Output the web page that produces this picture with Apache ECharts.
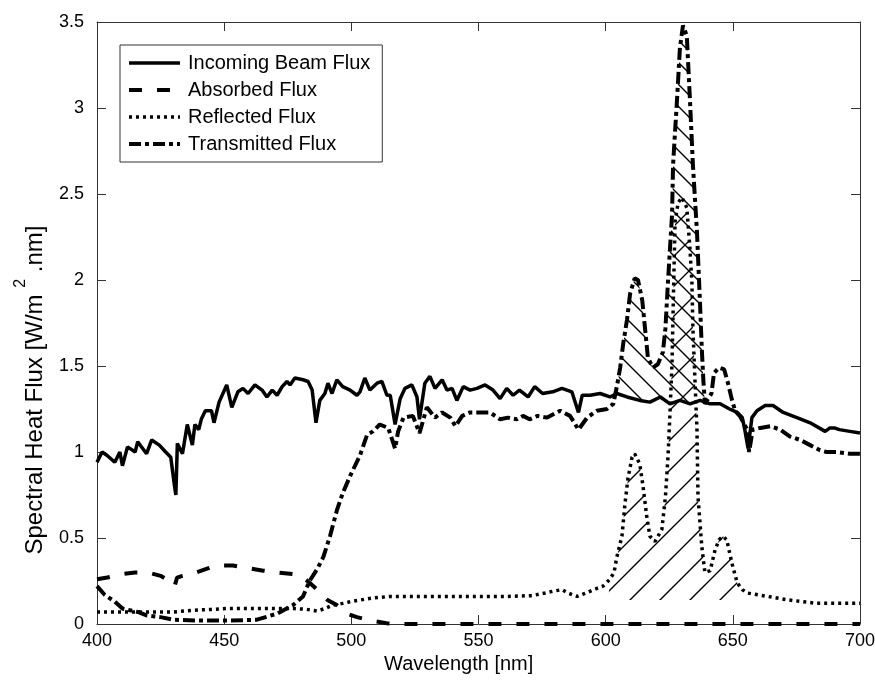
<!DOCTYPE html>
<html>
<head>
<meta charset="utf-8">
<script src="https://cdn.jsdelivr.net/npm/echarts@6/dist/echarts.min.js"></script>
<style>
  html, body { margin: 0; padding: 0; background: #fff; }
  #chart { width: 875px; height: 695px; }
</style>
</head>
<body>
<div id="chart"></div>
<script>
// ---- Spectral data (wavelength in nm, flux in W/m^2.nm) ----
const incomingNm = [400,402,404,407,409,410,412,415,416,419.5,421.5,424.5,427,429,430.5,431,431.6,433.6,435.5,437.5,438.5,440,441,442.6,445,446,448,451,453,455.4,457.4,459.4,462.1,464.9,466.8,468.9,470.8,472.8,474.7,475.9,477.8,481,483,484.6,486.1,487.6,489.6,490.8,492.4,494.3,496.6,499.5,502.2,503.4,505.3,507.3,510.1,512,514,515.3,517.2,519.2,521.1,523.8,525.8,526.8,528.9,530.9,532.9,535.7,537.6,539.6,541.5,544,546.7,549.4,552.6,555.7,558.5,561.1,563.6,566.1,569.5,572.1,575.2,579.2,582.8,586.7,589.3,590.8,593.9,597.8,601.7,604.4,608.4,613.4,617.4,621.5,625.3,629.2,633.2,637.1,641.1,645,648.7,651.7,653.7,654.7,656,657.5,659.5,662.7,665.8,669.8,675.2,680.4,686.3,688.2,689.9,691.9,696,700];
const incomingFlux = [0.94,1.00,0.98,0.94,1.00,0.92,1.03,1.00,1.06,0.99,1.07,1.04,1.00,0.97,0.80,0.75,1.05,0.99,1.16,1.04,1.16,1.13,1.19,1.24,1.24,1.17,1.29,1.39,1.26,1.35,1.37,1.34,1.39,1.36,1.32,1.36,1.33,1.38,1.41,1.39,1.43,1.42,1.41,1.36,1.17,1.30,1.34,1.40,1.34,1.42,1.38,1.36,1.33,1.35,1.43,1.36,1.40,1.41,1.33,1.33,1.16,1.31,1.37,1.39,1.32,1.19,1.40,1.44,1.37,1.42,1.36,1.37,1.30,1.38,1.36,1.37,1.39,1.36,1.31,1.37,1.33,1.36,1.32,1.38,1.34,1.35,1.37,1.35,1.23,1.33,1.33,1.34,1.32,1.34,1.32,1.30,1.29,1.32,1.28,1.30,1.28,1.30,1.28,1.28,1.25,1.23,1.20,1.13,1.02,1.20,1.24,1.27,1.27,1.23,1.20,1.17,1.12,1.14,1.14,1.13,1.12,1.11];

const absorbedNm = [400,404,410,415,420,425,428.5,430.5,431.5,433.6,439,443,447,450,453.4,457.4,461.4,465.4,470.5,477.1,481,483.6,486.6,490.6,494.3,498.3,502.2,507.7,513.8,517.8,700];
const absorbedFlux = [0.26,0.27,0.29,0.30,0.30,0.28,0.25,0.22,0.27,0.28,0.30,0.32,0.34,0.34,0.34,0.33,0.32,0.31,0.30,0.29,0.27,0.24,0.20,0.14,0.11,0.06,0.04,0.02,0.005,0,0];

const reflectedNm = [400,410,420,430,438,445,451.3,460.4,470.5,477.5,482.5,486.6,489.6,492.6,496.6,499.7,503.7,507.7,514.8,520.8,530.9,540.9,551,561.1,571.1,576.2,579.2,582.8,585.2,588.8,592.3,595.3,598.9,601.7,603.3,604.4,606.4,607.6,608.8,610.4,611.4,613.4,614.7,616.2,617.4,619.4,622.1,623.5,624.5,625.3,626.1,626.7,627.3,628.5,630,631.9,633.1,633.9,634.3,635.1,635.9,636.3,637.8,639,641.1,643,644.6,646.1,647.6,649.7,651.7,653.7,655.7,659.8,663.8,671.9,682.9,691.9,700];
const reflectedFlux = [0.07,0.07,0.07,0.07,0.08,0.085,0.09,0.09,0.09,0.09,0.085,0.075,0.09,0.11,0.12,0.13,0.14,0.15,0.16,0.16,0.16,0.16,0.16,0.16,0.165,0.18,0.19,0.20,0.18,0.16,0.18,0.20,0.22,0.26,0.30,0.39,0.51,0.70,0.85,0.97,0.99,0.93,0.80,0.62,0.51,0.48,0.55,0.74,0.97,1.23,1.52,1.95,2.34,2.45,2.48,2.42,2.19,1.99,1.72,1.42,1.13,0.74,0.45,0.30,0.31,0.43,0.49,0.51,0.49,0.35,0.24,0.20,0.18,0.17,0.16,0.14,0.12,0.12,0.12];

const transmittedNm = [400,403,407,410,416,419.5,425,430,440,452.3,462.9,470.8,477.1,481,483.6,486.6,489,491.6,494.3,496.6,499.5,503.4,506.2,508.5,511.2,514.5,517.2,518.4,520.5,524.2,526.8,529.7,532.9,535.7,538.9,540.9,543.6,546.7,550.6,554.5,558.5,561.6,565.1,567.5,570.1,573.2,577,582.1,586,589.3,592.7,596.6,600.5,603,604.4,605.7,606.9,608.4,609.6,611.4,612.7,614.4,615.4,616.6,618.5,620.5,622.5,623.5,624.5,626.1,626.5,628.1,629.2,630.4,631.9,633.1,634.3,635.9,637,637.8,638.4,639,641.6,642.6,644.6,646.6,648.1,649.7,650.9,652.7,655.7,656.4,657.8,660.8,664.8,668.6,672.5,676.5,680.4,684.3,686.9,690.9,696,700];
const transmittedFlux = [0.22,0.17,0.13,0.09,0.07,0.05,0.04,0.025,0.02,0.02,0.025,0.06,0.11,0.16,0.25,0.32,0.39,0.51,0.66,0.76,0.86,0.98,1.10,1.12,1.16,1.14,1.02,1.12,1.20,1.21,1.11,1.26,1.20,1.23,1.20,1.15,1.21,1.23,1.23,1.23,1.19,1.20,1.19,1.21,1.19,1.21,1.20,1.24,1.21,1.13,1.20,1.24,1.25,1.28,1.38,1.49,1.63,1.77,1.92,2.01,2.00,1.88,1.73,1.55,1.49,1.51,1.58,1.72,1.99,2.38,2.67,3.06,3.35,3.48,3.42,3.06,2.67,2.28,1.90,1.60,1.42,1.28,1.34,1.46,1.49,1.48,1.40,1.30,1.24,1.21,1.13,1.00,1.13,1.14,1.15,1.13,1.09,1.07,1.04,1.01,1.00,1.00,0.99,0.99];

// Shaded bands: transmitted excess over the incoming beam, and the reflected peaks
const excessBand = [604, 639];
const reflectedBand = [601, 654];
const reflectedBandFloor = 0.14;

const seriesNames = ['Incoming Beam Flux', 'Absorbed Flux', 'Reflected Flux', 'Transmitted Flux'];

const FONT = '"Liberation Sans", Arial, Helvetica, sans-serif';
const INK = '#000';

function pairs(xs, ys) { return xs.map((x, i) => [x, ys[i]]); }

// Polygon: transmitted curve on top, incoming curve back along the bottom
const excessPoly = pairs(transmittedNm, transmittedFlux)
  .filter(p => p[0] >= excessBand[0] && p[0] <= excessBand[1])
  .concat(pairs(incomingNm, incomingFlux)
    .filter(p => p[0] >= excessBand[0] && p[0] <= excessBand[1]).reverse());

// Polygon: reflected curve over a flat floor
const reflectedPoly = [[reflectedBand[0], reflectedBandFloor]]
  .concat(pairs(reflectedNm, reflectedFlux)
    .filter(p => p[0] >= reflectedBand[0] && p[0] <= reflectedBand[1]))
  .concat([[reflectedBand[1], reflectedBandFloor]]);

// Diagonal hatch tiles
function hatchTile(size, forward) {
  const c = document.createElement('canvas');
  c.width = c.height = size;
  const g = c.getContext('2d');
  g.strokeStyle = '#000';
  g.lineWidth = 1.4;
  g.beginPath();
  if (forward) {           // "/"
    g.moveTo(-1, size + 1); g.lineTo(size + 1, -1);
    g.moveTo(-1, 1); g.lineTo(1, -1);
    g.moveTo(size - 1, size + 1); g.lineTo(size + 1, size - 1);
  } else {                 // "\"
    g.moveTo(-1, -1); g.lineTo(size + 1, size + 1);
    g.moveTo(-1, size - 1); g.lineTo(1, size + 1);
    g.moveTo(size - 1, -1); g.lineTo(size + 1, 1);
  }
  g.stroke();
  return c;
}

function hatchSeries(poly, tile) {
  return {
    type: 'custom',
    silent: true,
    z: 1,
    data: [[poly[0][0], poly[0][1]]],
    renderItem: function (params, api) {
      return {
        type: 'polygon',
        shape: { points: poly.map(p => api.coord(p)) },
        style: { fill: { image: tile, repeat: 'repeat' }, stroke: null }
      };
    }
  };
}

const chart = echarts.init(document.getElementById('chart'), null, { renderer: 'canvas' });

const axisLine = { show: true, onZero: false, lineStyle: { color: '#333', width: 1 } };
const axisTick = { show: true, inside: true, length: 9, lineStyle: { color: '#333', width: 1 } };

chart.setOption({
  animation: false,
  backgroundColor: '#fff',
  grid: { left: 97, right: 15, top: 22, bottom: 71, containLabel: false, outerBoundsMode: 'none' },
  legend: {
    data: seriesNames,
    orient: 'vertical',
    left: 120,
    top: 45,
    itemWidth: 51,
    itemHeight: 14,
    itemGap: 7,
    padding: [8, 12, 8, 7],
    borderColor: '#333',
    borderWidth: 1,
    backgroundColor: '#fff',
    z: 10,
    itemStyle: { opacity: 0 },
    lineStyle: { width: 'inherit', type: 'inherit' },
    textStyle: { fontFamily: FONT, fontSize: 20, color: INK, padding: [0, 0, 0, 3] }
  },
  graphic: [
    {
      type: 'text',
      left: 464 - 80, top: 654,
      style: {
        text: 'Wavelength [nm]', fontFamily: FONT, fontSize: 20, fill: INK,
        width: 160, align: 'center'
      }
    },
    {
      type: 'text',
      x: 30, y: 390,
      rotation: Math.PI / 2,
      style: {
        text: '{a|Spectral Heat Flux [W/m }{s|2}{a| .nm]}',
        align: 'center', verticalAlign: 'middle',
        rich: {
          a: { fontFamily: FONT, fontSize: 24, fill: INK, lineHeight: 34, verticalAlign: 'bottom' },
          s: { fontFamily: FONT, fontSize: 16, fill: INK, lineHeight: 34, verticalAlign: 'top' }
        }
      }
    }
  ],
  xAxis: [
    {
      type: 'value', min: 400, max: 700, interval: 50,
      axisLine, axisTick,
      axisLabel: { fontFamily: FONT, fontSize: 18, color: INK, margin: 8 },
      splitLine: { show: false }
    },
    {
      type: 'value', min: 400, max: 700, interval: 50, position: 'top',
      axisLine, axisTick, axisLabel: { show: false }, splitLine: { show: false }
    }
  ],
  yAxis: [
    {
      type: 'value', min: 0, max: 3.5, interval: 0.5,
      axisLine, axisTick,
      axisLabel: { fontFamily: FONT, fontSize: 18, color: INK, margin: 13 },
      splitLine: { show: false }
    },
    {
      type: 'value', min: 0, max: 3.5, interval: 0.5, position: 'right',
      axisLine, axisTick, axisLabel: { show: false }, splitLine: { show: false }
    }
  ],
  series: [
    hatchSeries(excessPoly, hatchTile(22, false)),
    hatchSeries(reflectedPoly, hatchTile(30, true)),
    {
      name: seriesNames[0], type: 'line', symbol: 'none', z: 3,
      data: pairs(incomingNm, incomingFlux),
      lineStyle: { color: '#000', width: 3.5, type: 'solid' },
      itemStyle: { color: '#000' }
    },
    {
      name: seriesNames[1], type: 'line', symbol: 'none', z: 3, clip: false,
      data: pairs(absorbedNm, absorbedFlux),
      lineStyle: { color: '#000', width: 4, type: [13, 15] },
      itemStyle: { color: '#000' }
    },
    {
      name: seriesNames[2], type: 'line', symbol: 'none', z: 3,
      data: pairs(reflectedNm, reflectedFlux),
      lineStyle: { color: '#000', width: 3.5, type: [3, 4] },
      itemStyle: { color: '#000' }
    },
    {
      name: seriesNames[3], type: 'line', symbol: 'none', z: 3,
      data: pairs(transmittedNm, transmittedFlux),
      lineStyle: { color: '#000', width: 4, type: [12, 4, 4, 4] },
      itemStyle: { color: '#000' }
    }
  ]
});
</script>
</body>
</html>
